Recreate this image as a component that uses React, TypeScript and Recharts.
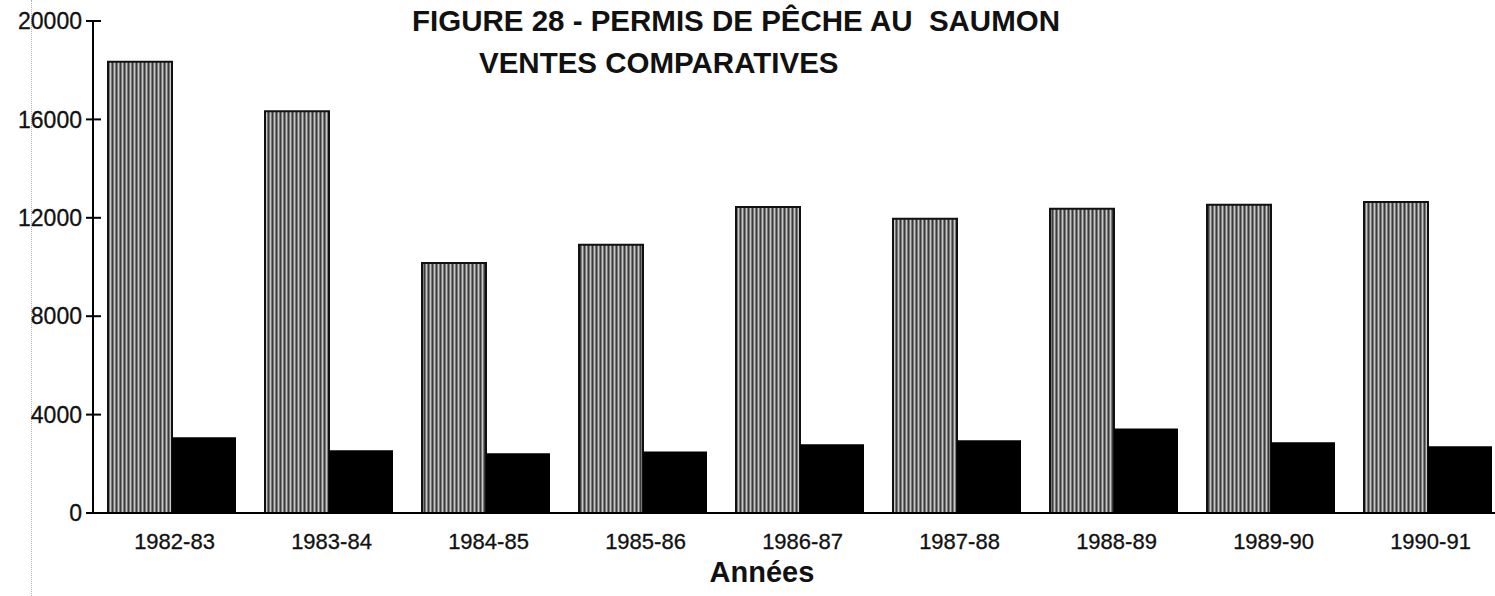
import { BarChart, Bar, XAxis, YAxis } from "recharts";

const seasons = [
  "1982-83",
  "1983-84",
  "1984-85",
  "1985-86",
  "1986-87",
  "1987-88",
  "1988-89",
  "1989-90",
  "1990-91",
];
const greySeries = [18340, 16330, 10160, 10905, 12440, 11960, 12370, 12530, 12640];
const blackSeries = [3080, 2550, 2430, 2495, 2795, 2958, 3430, 2876, 2714];
const yTicks = [0, 4000, 8000, 12000, 16000, 20000];

const FONT = '"Liberation Sans", Arial, Helvetica, sans-serif';

const data = seasons.map((s, i) => ({
  season: s,
  grey: greySeries[i],
  black: blackSeries[i],
}));

function YTick({ x, y, payload }: any) {
  return (
    <g>
      <line x1={x - 7} x2={x + 8} y1={y} y2={y} stroke="#000" strokeWidth={2} />
      <text
        x={x - 11}
        y={y}
        dy="0.36em"
        textAnchor="end"
        fontSize={23}
        fontFamily={FONT}
        fill="#111"
        stroke="#111"
        strokeWidth={0.3}
      >
        {payload.value}
      </text>
    </g>
  );
}

function XTick({ x, y, payload }: any) {
  return (
    <text
      x={x + 3}
      y={y + 36}
      textAnchor="middle"
      fontSize={22}
      fontFamily={FONT}
      fill="#111"
      stroke="#111"
      strokeWidth={0.3}
    >
      {payload.value}
    </text>
  );
}

const titleStyle = {
  position: "absolute" as const,
  fontFamily: FONT,
  fontWeight: "bold" as const,
  fontSize: 29.5,
  lineHeight: "42px",
  color: "#111",
  whiteSpace: "pre" as const,
};

export default function App() {
  return (
    <div
      style={{
        position: "absolute",
        left: 0,
        top: 0,
        width: 1495,
        height: 596,
        overflow: "hidden",
        background: "#fff",
      }}
    >
      {/* faint scan line on the left */}
      <div
        style={{
          position: "absolute",
          left: 31,
          top: 0,
          width: 0,
          height: 596,
          borderLeft: "1px dotted #b0b0b0",
        }}
      />
      <BarChart
        width={1510}
        height={596}
        data={data}
        margin={{ top: 21, right: 4, left: 0, bottom: 0 }}
        barCategoryGap={15}
        barGap={0}
      >
        <defs>
          <pattern id="stipple" width="4" height="4" patternUnits="userSpaceOnUse">
            <rect width="4" height="4" fill="#7a7a7a" />
            <rect x="0" width="1" height="4" fill="#3a3a3a" />
            <rect x="2" width="1" height="4" fill="#c8c8c8" />
          </pattern>
        </defs>
        <XAxis
          dataKey="season"
          height={83}
          axisLine={{ stroke: "#000", strokeWidth: 2 }}
          tickLine={false}
          tickSize={0}
          tickMargin={0}
          tick={<XTick />}
          interval={0}
        />
        <YAxis
          width={93}
          domain={[0, 20000]}
          ticks={yTicks}
          axisLine={{ stroke: "#000", strokeWidth: 2 }}
          tickLine={false}
          tickSize={0}
          tickMargin={0}
          tick={<YTick />}
          interval={0}
        />
        <Bar
          dataKey="grey"
          fill="url(#stipple) #808080"
          stroke="#111"
          strokeWidth={2}
          isAnimationActive={false}
        />
        <Bar dataKey="black" fill="#000" isAnimationActive={false} />
      </BarChart>
      <div style={{ ...titleStyle, left: 412, top: 0 }}>
        FIGURE 28 - PERMIS DE PÊCHE AU  SAUMON
      </div>
      <div style={{ ...titleStyle, left: 479, top: 42 }}>VENTES COMPARATIVES</div>
      <div
        style={{
          position: "absolute",
          left: 0,
          width: 1524,
          top: 556,
          textAlign: "center",
          fontFamily: FONT,
          fontWeight: "bold",
          fontSize: 29,
          color: "#111",
        }}
      >
        Années
      </div>
    </div>
  );
}
